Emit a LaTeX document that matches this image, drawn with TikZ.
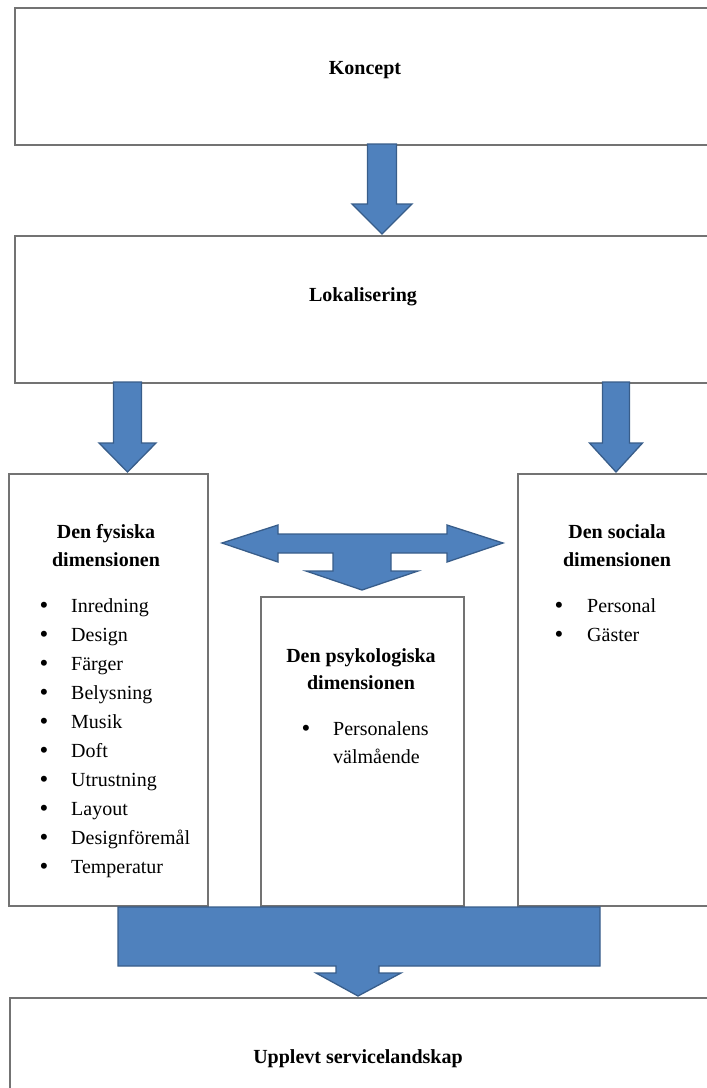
\documentclass[tikz,border=0pt]{standalone}
\usepackage{fontspec}
\setmainfont{Liberation Serif}
\usetikzlibrary{calc}
% downward block arrow: centre x, top y, tip y, half shaft, half head, head length
\newcommand{\blockdown}[6]{%
  \draw[blockarrow] ({#1-#4},#2) -- ({#1-#4},{#3-#6}) -- ({#1-#5},{#3-#6}) -- (#1,#3)
    -- ({#1+#5},{#3-#6}) -- ({#1+#4},{#3-#6}) -- ({#1+#4},#2) -- cycle;}
\begin{document}
\begin{tikzpicture}[x=1pt,y=-1pt,
  framebox/.style={draw=black!55,line width=1.7pt,fill=white,inner sep=0pt,anchor=north west},
  blockarrow/.style={fill=arrowfill,draw=arrowline,line width=1.3pt,line join=miter},
  title/.style={font=\fontsize{20}{24}\selectfont\bfseries,inner sep=0pt,anchor=base},
  item/.style={font=\fontsize{20}{24}\selectfont,inner sep=0pt,anchor=base west},
  dot/.style={font=\fontsize{25}{24}\selectfont,inner sep=0pt,anchor=base}]
\definecolor{arrowfill}{HTML}{4F81BD}
\definecolor{arrowline}{HTML}{385D8A}
\useasboundingbox (0,0) rectangle (707,1088);
\clip (0,0) rectangle (707,1088);

% boxes
\node[framebox,minimum width=710pt,minimum height=137pt] (koncept) at (14,7) {};
\node[framebox,minimum width=710pt,minimum height=147pt] (lok) at (14,235) {};
\node[framebox,minimum width=199pt,minimum height=432pt] (fys) at (8,473) {};
\node[framebox,minimum width=203pt,minimum height=309pt] (psy) at (260,596) {};
\node[framebox,minimum width=205pt,minimum height=432pt] (soc) at (517,473) {};
\node[framebox,minimum width=710pt,minimum height=110pt] (upp) at (9,997) {};

% box texts
\node[title] (tkoncept) at (365,74) {Koncept};
\node[title] (tlok) at (363,301) {Lokalisering};
\node[title] (tupp) at (358,1063) {Upplevt servicelandskap};

\node[title] (tfys1) at (106,538) {Den fysiska};
\node[title] (tfys2) at (106,566) {dimensionen};
\foreach \t [count=\i from 0] in {Inredning,Design,Färger,Belysning,Musik,Doft,Utrustning,Layout,Designföremål,Temperatur}{
  \node[dot] (bf\i) at (44,{613+29.1*\i}) {\textbullet};
  \node[item] (f\i) at (71,{612+29.1*\i}) {\t};
}

\node[title] (tpsy1) at (361,662) {Den psykologiska};
\node[title] (tpsy2) at (361,689) {dimensionen};
\node[dot] (bp0) at (306,736) {\textbullet};
\node[item] (p0) at (333,735) {Personalens};
\node[item] (p1) at (333,763) {välmående};

\node[title] (tsoc1) at (617,538) {Den sociala};
\node[title] (tsoc2) at (617,566) {dimensionen};
\node[dot] (bs0) at (559,613) {\textbullet};
\node[item] (s0) at (587,612) {Personal};
\node[dot] (bs1) at (559,642) {\textbullet};
\node[item] (s1) at (587,641) {Gäster};

% block arrows between the boxes
\blockdown{382}{144}{234}{14.5}{30}{30}
\blockdown{127.5}{382}{472}{14}{28.5}{29}
\blockdown{616}{382}{472}{13.5}{26.5}{29}

% double-headed arrow with a downward branch
\draw[blockarrow] (222,543) -- (278,525) -- (278,534) -- (447,534) -- (447,525)
  -- (503,543) -- (447,562) -- (447,553) -- (391,553) -- (391,571) -- (418,571)
  -- (362,590) -- (306,571) -- (333,571) -- (333,553) -- (278,553) -- (278,562) -- cycle;

% wide arrow collecting the three dimensions
\draw[blockarrow] (118,907) -- (600,907) -- (600,966) -- (379,966) -- (379,973)
  -- (401,973) -- (358,996) -- (316,973) -- (336,973) -- (336,966) -- (118,966) -- cycle;
\end{tikzpicture}
\end{document}
